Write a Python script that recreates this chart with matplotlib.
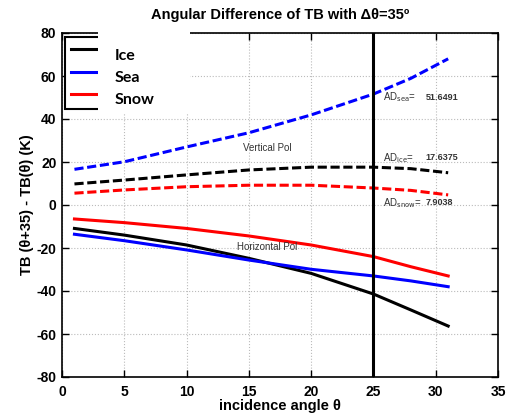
import matplotlib.pyplot as plt
from matplotlib.patches import Rectangle

# incidence angles and TB(theta+35) - TB(theta) differences (K)
theta = [1, 5, 10, 15, 20, 25, 28, 31]
ice_v = [9.8, 11.6, 14.0, 16.3, 17.6, 17.6, 16.9, 15.0]
sea_v = [16.6, 20.1, 27.0, 33.6, 41.9, 51.6, 58.9, 68.0]
snow_v = [5.5, 7.0, 8.5, 9.2, 9.2, 7.9, 6.8, 4.7]
ice_h = [-10.9, -14.0, -18.6, -24.8, -31.8, -41.4, -48.8, -56.3]
sea_h = [-13.6, -16.6, -20.9, -25.6, -29.9, -33.0, -35.3, -38.0]
snow_h = [-6.5, -8.2, -10.9, -14.4, -18.6, -24.0, -28.7, -33.0]

ad_labels = ['sea', 'ice', 'snow']
ad_values = [51.6491, 17.6375, 7.9038]
ad_y = [50, 22, 1]

plt.rcParams['font.family'] = ['Liberation Sans', 'DejaVu Sans']
plt.rcParams['axes.unicode_minus'] = False

fig = plt.figure(figsize=(5.1, 4.18), dpi=100)
ax = fig.add_axes([62/510, 1-377/418, 436/510, 344/418])

dash = (3, 1.2)
ax.plot(theta, ice_h, color='black', lw=2.2)
ax.plot(theta, sea_h, color='blue', lw=2.2)
ax.plot(theta, snow_h, color='red', lw=2.2)
ax.plot(theta, ice_v, color='black', lw=2.2, ls=(0, dash))
ax.plot(theta, sea_v, color='blue', lw=2.2, ls=(0, dash))
ax.plot(theta, snow_v, color='red', lw=2.2, ls=(0, dash))
ax.axvline(25, color='black', lw=2.2)

ax.set_xlim(0, 35)
ax.set_ylim(-80, 80)
ax.set_xticks(range(0, 36, 5))
ax.set_yticks(range(-80, 81, 20))
ax.grid(True, color='#bbbbbb', ls=':', lw=0.8)
ax.tick_params(direction='in', top=True, right=True, length=5, width=1, labelsize=10, pad=4)
ax.tick_params(axis='x', pad=6)
for lab in ax.get_xticklabels() + ax.get_yticklabels():
    lab.set_fontweight('bold')
for s in ax.spines.values():
    s.set_linewidth(1.2)

ax.set_title('Angular Difference of TB with Δθ=35º', fontsize=10.5, fontweight='bold', pad=10)
ax.set_xlabel('incidence angle θ', fontsize=10.5, fontweight='bold', labelpad=0)
ax.set_ylabel('TB (θ+35) - TB(θ) (K)', fontsize=10.5, fontweight='bold', labelpad=2)

for name, val, y in zip(ad_labels, ad_values, ad_y):
    ax.text(25.8, y, 'AD$_{\\rm %s}$=' % name, fontsize=7, color='#333333', va='center')
    ax.text(29.2, y, f'{val:.4f}', fontsize=6.5, color='#333333', fontweight='bold', va='center')
ax.text(16.5, 26.5, 'Vertical Pol', fontsize=7, color='#333333', ha='center', va='center')
ax.text(16.5, -19.5, 'Horizontal Pol', fontsize=7, color='#333333', ha='center', va='center')

# legend frame with the line samples, names written on a white card
h = ax.get_lines()[:3]
leg = ax.legend(h, ['', '', ''], loc='upper left', bbox_to_anchor=(0.007, 0.988),
                borderaxespad=0, handlelength=1.6, handletextpad=0.2, labelspacing=0.45,
                fontsize=12, fancybox=False, framealpha=1, edgecolor='black', borderpad=0.35)
leg.get_frame().set_linewidth(1.5)
card = Rectangle((98/510, 1-113/418), 92/510, 86/418, transform=fig.transFigure,
                 facecolor='white', edgecolor='none', zorder=10, clip_on=False)
ax.add_patch(card)
for name, yp in zip(['Ice', 'Sea', 'Snow'], [56, 78, 100]):
    ax.text(115/510, 1-yp/418, name, transform=fig.transFigure, fontsize=11.5,
            family=['Lato', 'DejaVu Sans'], fontweight='bold', va='center', zorder=11)

fig.savefig('out.png', dpi=100)
